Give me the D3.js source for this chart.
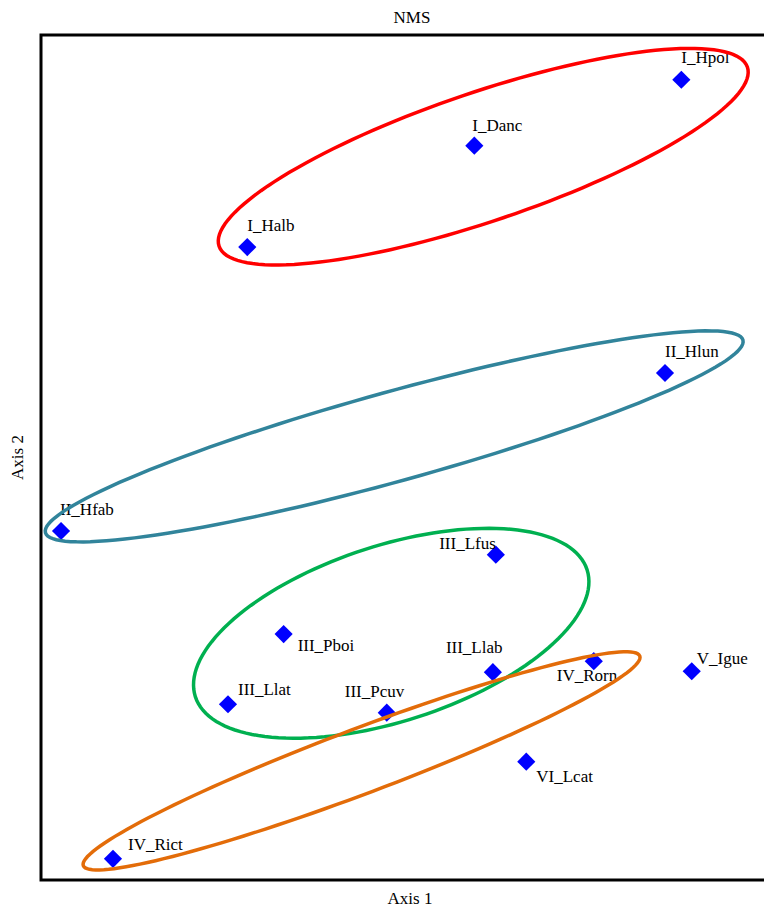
<!DOCTYPE html>
<html>
<head>
<meta charset="utf-8">
<script src="https://cdn.jsdelivr.net/npm/d3@7"></script>
<style>
  body { margin: 0; background: #fff; }
  text { font-family: "Liberation Serif", "Times New Roman", serif; fill: #000; }
</style>
</head>
<body>
<div id="chart"></div>
<script>
var width = 764,
    height = 909;

// NMS scores (axis units)
var names = ["I_Hpol", "I_Danc", "I_Halb", "II_Hlun", "II_Hfab", "III_Lfus", "III_Pboi",
             "III_Llat", "III_Pcuv", "III_Llab", "IV_Rorn", "V_Igue", "VI_Lcat", "IV_Rict"];
var axis1 = [86.3, 58.4, 27.8, 84.1, 2.7, 61.3, 32.7, 25.2, 46.6, 60.9, 74.5, 87.7, 65.4, 9.7];
var axis2 = [94.7, 86.9, 74.9, 60.0, 41.3, 38.5, 29.1, 20.8, 19.8, 24.6, 25.9, 24.7, 14.0, 2.5];

// group ellipses: centre, half major axis vector, half minor axis vector (axis units)
var ellipseGroups = ["I", "II", "III", "IV"];
var ellipseCentre = [[59.6, 85.6], [47.6, 52.5], [47.2, 29.2], [43.2, 14.1]];
var ellipseMajor  = [[35.6, 10.6], [47.0, 11.4], [26.4, 7.5], [37.5, 12.4]];
var ellipseMinor  = [[2.8, -7.2], [1.6, -5.1], [3.6, -9.9], [1.5, -3.6]];
var ellipseColors = ["#ff0000", "#31849b", "#00b050", "#e36c09"];

// label placement relative to the marker [dx, dy, anchor]
var labelPlace = {
  "I_Hpol": [0, -17, "start"], "I_Danc": [-2, -15, "start"], "I_Halb": [0, -16, "start"],
  "II_Hlun": [0, -16, "start"], "II_Hfab": [-1, -16, "start"], "III_Lfus": [0, -6, "end"],
  "III_Pboi": [14, 17, "start"], "III_Llat": [10, -9, "start"], "III_Pcuv": [-42, -16, "start"],
  "III_Llab": [-47, -19, "start"], "IV_Rorn": [-37, 20, "start"], "V_Igue": [5, -7, "start"],
  "VI_Lcat": [10, 20, "start"], "IV_Rict": [15, -9, "start"]
};

var mLeft = 41, mTop = 35, mRight = 783, mBottom = 880;

var x = d3.scaleLinear().domain([0, 100]).range([mLeft, mLeft + 742]);
var y = d3.scaleLinear().domain([0, 100]).range([mBottom, mBottom - 845]);

var svg = d3.select("#chart").append("svg")
    .attr("width", width)
    .attr("height", height);

svg.append("rect")
    .attr("x", mLeft)
    .attr("y", mTop)
    .attr("width", mRight - mLeft)
    .attr("height", mBottom - mTop)
    .attr("fill", "none")
    .attr("stroke", "#000")
    .attr("stroke-width", 3);

svg.append("text")
    .attr("x", (mLeft + mRight) / 2)
    .attr("y", 23)
    .attr("text-anchor", "middle")
    .attr("font-size", 17)
    .text("NMS");

svg.append("text")
    .attr("x", (mLeft + mRight) / 2 - 2)
    .attr("y", 904)
    .attr("text-anchor", "middle")
    .attr("font-size", 17)
    .text("Axis 1");

svg.append("text")
    .attr("transform", "translate(23," + ((mTop + mBottom) / 2) + ") rotate(-90)")
    .attr("text-anchor", "middle")
    .attr("font-size", 17)
    .text("Axis 2");

var points = names.map(function (n, i) {
  return { name: n, a1: axis1[i], a2: axis2[i] };
});

var diamond = d3.symbol().type(d3.symbolSquare).size(165);

var pts = svg.append("g");

pts.selectAll("path")
    .data(points)
    .enter()
    .append("path")
    .attr("d", diamond)
    .attr("transform", function (d) { return "translate(" + x(d.a1) + "," + y(d.a2) + ") rotate(45)"; })
    .attr("fill", "#0000ff");

pts.selectAll("text")
    .data(points)
    .enter()
    .append("text")
    .attr("x", function (d) { return x(d.a1) + labelPlace[d.name][0]; })
    .attr("y", function (d) { return y(d.a2) + labelPlace[d.name][1]; })
    .attr("text-anchor", function (d) { return labelPlace[d.name][2]; })
    .attr("font-size", 17)
    .text(function (d) { return d.name; });

var line = d3.line()
    .x(function (p) { return x(p[0]); })
    .y(function (p) { return y(p[1]); })
    .curve(d3.curveLinearClosed);

var ells = svg.append("g");

ellipseGroups.forEach(function (g, i) {
  var c = ellipseCentre[i], a = ellipseMajor[i], b = ellipseMinor[i];
  var ring = d3.range(0, 144).map(function (k) {
    var t = k / 144 * 2 * Math.PI;
    return [c[0] + a[0] * Math.cos(t) + b[0] * Math.sin(t),
            c[1] + a[1] * Math.cos(t) + b[1] * Math.sin(t)];
  });
  ells.append("path")
      .attr("d", line(ring))
      .attr("fill", "none")
      .attr("stroke", ellipseColors[i])
      .attr("stroke-width", 3.5);
});
</script>
</body>
</html>
